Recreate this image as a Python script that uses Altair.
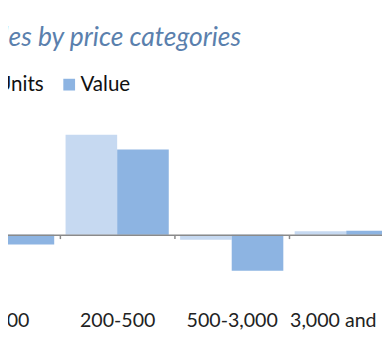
import altair as alt
import pandas as pd

categories = ["0-200", "200-500", "500-3,000", "3,000 and up"]
series = ["Units", "Value"]
units = [-3.3, 34.0, -1.7, 1.2]
value = [-3.3, 29.0, -12.3, 1.3]
colors = ["#c6d9f1", "#8db4e2"]

rows = []
for i, c in enumerate(categories):
    rows.append({"category": c, "series": "Units", "change": units[i]})
    rows.append({"category": c, "series": "Value", "change": value[i]})
df = pd.DataFrame(rows)

chart = alt.Chart(df).mark_bar().encode(
    x=alt.X(
        "category:N",
        sort=categories,
        scale=alt.Scale(range=[-64, 404], paddingInner=0, paddingOuter=0),
        axis=alt.Axis(
            title=None, labelAngle=0, domainColor="#8a8a8a", domainWidth=1.5,
            tickColor="#8a8a8a", tickWidth=1.5, tickSize=4, tickBand="extent",
            offset=-102, labelPadding=74, labelFont="Lato", labelFontSize=20,
            labelColor="#222222", zindex=1, grid=False,
        ),
    ),
    xOffset=alt.XOffset("series:N", sort=series,
                        scale=alt.Scale(paddingInner=0, paddingOuter=0.11)),
    y=alt.Y("change:Q", scale=alt.Scale(domain=[-34, 42.67], nice=False, zero=False),
            axis=None),
    color=alt.Color(
        "series:N", sort=series,
        scale=alt.Scale(domain=series, range=colors),
        legend=alt.Legend(
            orient="none", legendX=-34, legendY=-36, direction="horizontal",
            title=None, symbolType="square", symbolSize=144, symbolStrokeWidth=0,
            labelFont="Lato", labelFontSize=21, labelColor="#111111",
            columnPadding=15, labelOffset=1, padding=0,
        ),
    ),
).properties(
    width=382,
    height=230,
    padding={"top": 100, "left": 0, "right": 0, "bottom": 0},
    autosize=alt.AutoSizeParams(type="none"),
    title=alt.TitleParams(
        "Sales by price categories", anchor="start", frame="group", dx=-33, offset=2,
        baseline="alphabetic", font="Lato", fontSize=27, fontStyle="italic",
        fontWeight="normal", color="#5a80ad",
    ),
).configure_view(stroke=None)

chart.save("out.html", embed_options={"renderer": "svg", "actions": False})
